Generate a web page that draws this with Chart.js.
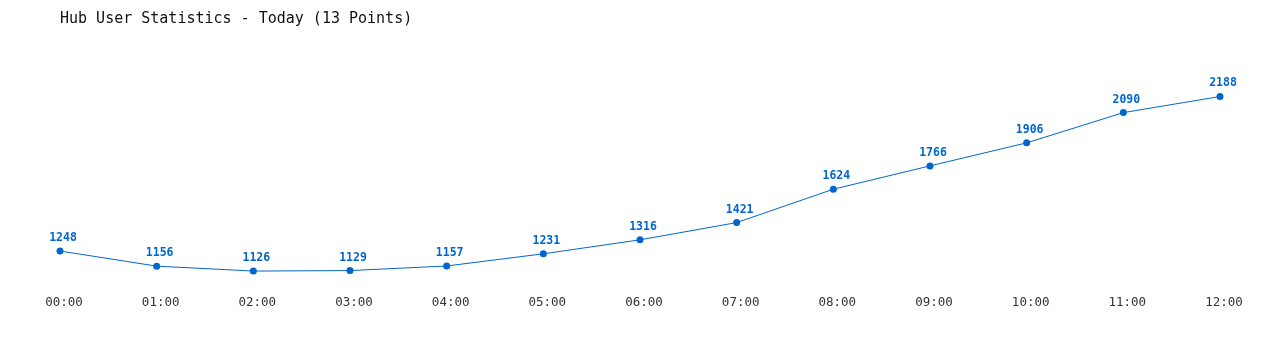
<!DOCTYPE html>
<html><head><meta charset="utf-8">
<script src="https://cdn.jsdelivr.net/npm/chart.js@4/dist/chart.umd.min.js"></script>
<style>html,body{margin:0;padding:0;background:#fff}canvas{display:block}</style>
</head><body>
<canvas id="c" width="1280" height="350"></canvas>
<script>
const categories = ["00:00","01:00","02:00","03:00","04:00","05:00","06:00","07:00","08:00","09:00","10:00","11:00","12:00"];
const users = [1248,1156,1126,1129,1157,1231,1316,1421,1624,1766,1906,2090,2188];
const titleText = "Hub User Statistics - Today (13 Points)";

const labelPlugin = {
  id: 'pointLabels',
  afterDatasetsDraw(chart) {
    const ctx = chart.ctx;
    const meta = chart.getDatasetMeta(0);
    ctx.save();
    ctx.font = 'bold 11.5px "DejaVu Sans Mono", monospace';
    ctx.fillStyle = '#0066cc';
    ctx.textAlign = 'center';
    ctx.textBaseline = 'middle';
    meta.data.forEach((pt, i) => {
      ctx.fillText(String(chart.data.datasets[0].data[i]), pt.x + 3, pt.y - 13);
    });
    ctx.restore();
  }
};

new Chart(document.getElementById('c'), {
  type: 'line',
  data: {
    labels: categories,
    datasets: [{
      data: users,
      borderColor: '#0066cc',
      backgroundColor: '#0066cc',
      borderWidth: 1,
      pointRadius: 3.5,
      pointBackgroundColor: '#0066cc',
      pointBorderWidth: 0,
      tension: 0,
      fill: false
    }]
  },
  options: {
    responsive: false,
    animation: false,
    layout: { padding: { left: 60, right: 60, top: 10, bottom: 29 } },
    plugins: {
      legend: { display: false },
      tooltip: { enabled: false },
      title: {
        display: true,
        text: titleText,
        align: 'start',
        color: '#111',
        font: { family: '"DejaVu Sans Mono", monospace', size: 15, weight: 'normal' },
        padding: { top: 0, bottom: 10 }
      }
    },
    scales: {
      x: {
        offset: false,
        grid: { display: false },
        border: { display: false },
        ticks: {
          color: '#333',
          font: { family: '"DejaVu Sans Mono", monospace', size: 12.5 },
          maxRotation: 0,
          autoSkip: false,
          padding: 11,
          labelOffset: 4
        }
      },
      y: {
        display: false,
        min: 1096,
        max: 2544
      }
    }
  },
  plugins: [labelPlugin]
});
</script>
</body></html>
